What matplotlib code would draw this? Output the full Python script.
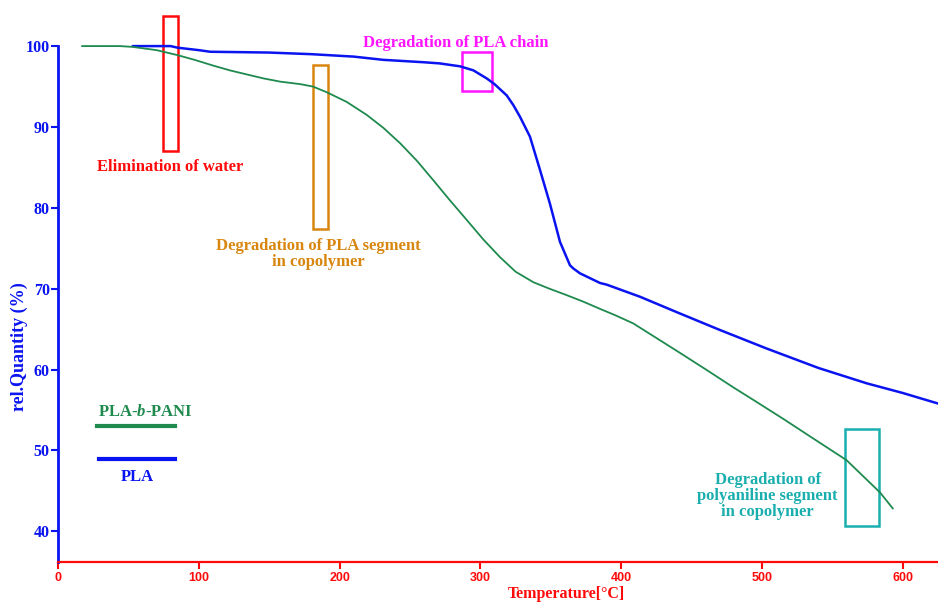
import matplotlib
matplotlib.use("Agg")
import matplotlib.pyplot as plt
from matplotlib.patches import Rectangle

plt.rcParams["mathtext.fontset"] = "custom"
plt.rcParams["mathtext.it"] = "Liberation Serif:italic:bold"
plt.rcParams["mathtext.rm"] = "Liberation Serif:bold"

# PLA (blue)
pla_T = [53, 70, 80, 85, 100, 108, 130, 150, 180, 210, 231, 260, 271, 285.5, 295, 304.5, 310, 318.7, 323.4,
         328, 335.2, 342.3, 349.4, 356.5, 363.6, 366, 370.7, 385, 389.7, 413.4, 439.4, 470, 503.3, 540, 574.3, 600, 625]
pla_Q = [100, 100, 100, 99.8, 99.5, 99.3, 99.25, 99.2, 99.0, 98.7, 98.3, 98.0, 97.86, 97.5, 97.0, 96.0, 95.3, 93.9, 92.7,
         91.3, 88.8, 84.7, 80.5, 75.8, 72.9, 72.5, 71.9, 70.7, 70.5, 69.0, 67.1, 64.9, 62.6, 60.2, 58.3, 57.1, 55.8]

# PLA-b-PANI (green)
pani_T = [17, 44, 53, 70, 84.5, 97, 110, 122, 134, 146, 158, 171.9, 181, 190.8, 205, 219.2, 231, 242.9, 255, 266.6,
          278, 290.3, 302, 313.9, 325, 337.6, 349, 361.3, 373, 385, 396, 408.6, 425, 444.1, 462, 479.6, 497, 515.1,
          538.8, 560, 583.8, 593]
pani_Q = [100, 100, 99.9, 99.5, 98.9, 98.3, 97.6, 97.0, 96.5, 96.0, 95.6, 95.3, 95.0, 94.3, 93.1, 91.5, 89.9, 88.0, 85.8,
          83.4, 81.0, 78.5, 76.1, 73.9, 72.1, 70.8, 70.0, 69.2, 68.4, 67.5, 66.7, 65.7, 63.9, 61.8, 59.8, 57.8, 55.9,
          53.9, 51.2, 48.8, 44.8, 42.8]

x_ticks = [0, 100, 200, 300, 400, 500, 600]
y_ticks = [40, 50, 60, 70, 80, 90, 100]

BLUE = "#0a14f0"
GREEN = "#1e8a4e"
RED = "#ff0a0a"
ORANGE = "#d8860e"
MAGENTA = "#ff14ff"
TEAL = "#1aaeae"
SERIF = ["Liberation Serif", "DejaVu Serif"]

fig = plt.figure(figsize=(9.38, 6.02), dpi=100)
ax = fig.add_axes([58/938, 40/602, 880/938, 562/602])
ax.set_xlim(0, 625)
ax.set_ylim(36.2, 105.7)

ax.plot(pla_T, pla_Q, color=BLUE, lw=1.8, solid_capstyle="round", solid_joinstyle="round")
ax.plot(pani_T, pani_Q, color=GREEN, lw=1.3, solid_capstyle="round", solid_joinstyle="round")

for s in ["top", "right"]:
    ax.spines[s].set_visible(False)
ax.spines["left"].set_color(BLUE)
ax.spines["left"].set_linewidth(2.0)
ax.spines["left"].set_bounds(36.2, 100)
ax.spines["bottom"].set_color(RED)
ax.spines["bottom"].set_linewidth(1.6)

ax.set_xticks(x_ticks)
ax.set_yticks(y_ticks)
ax.tick_params(axis="x", colors=RED, length=5, width=1.5, pad=2)
ax.tick_params(axis="y", colors=BLUE, length=5, width=1.5, pad=1)
for lab in ax.get_xticklabels():
    lab.set_family(["Liberation Sans", "DejaVu Sans"])
    lab.set_fontweight("bold")
    lab.set_fontsize(9)
for lab in ax.get_yticklabels():
    lab.set_family(SERIF)
    lab.set_fontweight("bold")
    lab.set_fontsize(11.5)

fig.text(566/938, 1 - 594/602, "Temperature[°C]", color=RED, family=SERIF, fontweight="bold",
         fontsize=11.5, ha="center", va="center")
fig.text(19/938, 1 - 347/602, "rel.Quantity (%)", color=BLUE, family=SERIF, fontweight="bold",
         fontsize=13, ha="center", va="center", rotation=90)

# annotation boxes
boxes = [
    (74.6, 87.0, 10.6, 16.7, RED),
    (181, 77.4, 11, 20.2, ORANGE),
    (287, 94.4, 21, 4.9, MAGENTA),
    (559, 40.7, 24, 11.9, TEAL),
]
for x0, y0, w, h, c in boxes:
    ax.add_patch(Rectangle((x0, y0), w, h, fill=False, edgecolor=c, lw=1.8))

fs = 12
ax.text(79.5, 85.1, "Elimination of water", color=RED, family=SERIF, fontweight="bold",
        fontsize=fs, ha="center", va="center")
ax.text(185, 74.3, "Degradation of PLA segment\nin copolymer", color=ORANGE, family=SERIF,
        fontweight="bold", fontsize=fs, ha="center", va="center", linespacing=1.0)
ax.text(282.7, 100.4, "Degradation of PLA chain", color=MAGENTA, family=SERIF, fontweight="bold",
        fontsize=fs, ha="center", va="center")
ax.text(504, 44.4, "Degradation of\npolyaniline segment\nin copolymer", color=TEAL, family=SERIF,
        fontweight="bold", fontsize=fs, ha="center", va="center", linespacing=1.0)

# legend
ax.plot([28, 83], [53.0, 53.0], color=GREEN, lw=3)
ax.plot([29, 83], [48.9, 48.9], color=BLUE, lw=3)
ax.text(62, 54.8, "PLA-$\\mathit{b}$-PANI", color=GREEN, family=SERIF, fontweight="bold",
        fontsize=fs, ha="center", va="center")
ax.text(56, 46.7, "PLA", color=BLUE, family=SERIF, fontweight="bold",
        fontsize=fs, ha="center", va="center")

fig.savefig("out.png", dpi=100)
